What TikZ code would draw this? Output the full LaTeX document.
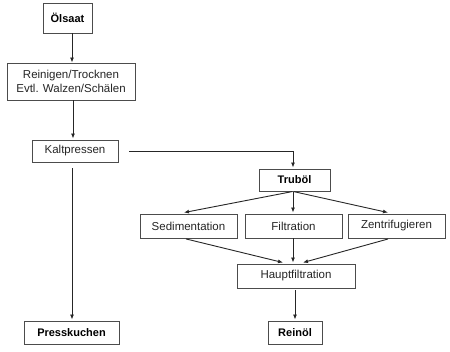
\documentclass[tikz,border=0pt]{standalone}
\usepackage{fontspec}
\setmainfont{Liberation Sans}
\usetikzlibrary{arrows.meta,calc}
\begin{document}
\begin{tikzpicture}[x=1pt,y=-1pt,
  box/.style={draw=black!70,line width=0.9pt,inner sep=0pt,text=black!85,
    font=\fontsize{11.5}{13.5}\selectfont,align=center},
  bbox/.style={box,text=black,font=\fontsize{11}{13}\selectfont\bfseries},
  arr/.style={draw=black!85,line width=0.9pt,-{Latex[length=5pt,width=4pt]}}]
\useasboundingbox[fill=white] (0,0) rectangle (450,352);
\node[bbox,minimum width=49pt,minimum height=30pt] (olsaat) at (67.5,18) {Ölsaat};
\node[box,minimum width=128pt,minimum height=37pt] (rein) at (71,81.5) {Reinigen/Trocknen\\Evtl. Walzen/Schälen};
\node[box,minimum width=86pt,minimum height=22pt] (kalt) at (75,151) {Kaltpressen};
\node[bbox,minimum width=95pt,minimum height=23pt] (press) at (71.5,332.5) {Presskuchen};
\node[bbox,minimum width=71pt,minimum height=22pt] (trub) at (294.5,180) {Truböl};
\node[box,minimum width=97pt,minimum height=24pt] (sed) at (188.5,226) {Sedimentation};
\node[box,minimum width=97pt,minimum height=24pt] (filt) at (293.5,226) {Filtration};
\node[box,minimum width=97pt,minimum height=24pt] (zent) at (396.5,226) {Zentrifugieren};
\node[box,minimum width=118pt,minimum height=24pt] (haupt) at (296,276) {Hauptfiltration};
\node[bbox,minimum width=54pt,minimum height=23pt] (reinol) at (295,332.5) {Reinöl};

\draw[arr] (olsaat.south -| 72,0) -- (rein.north -| 72,0);
\draw[arr] (rein.south -| 73,0) -- ([yshift=1pt]kalt.north -| 73,0);
\draw[arr,shorten <=11pt] (kalt.east) -- (kalt.east -| 293,0) -- ([yshift=1pt]trub.north -| 293,0);
\draw[arr,shorten <=6pt] (kalt.south -| 72,0) -- ([yshift=1pt]press.north -| 72,0);
\draw[arr,shorten <=1pt] (trub.south -| 293,0) -- ([yshift=1pt]sed.north -| 184,0);
\draw[arr,shorten <=1pt] (trub.south -| 293,0) -- ([yshift=1pt]filt.north -| 293,0);
\draw[arr,shorten <=1pt] (trub.south -| 293,0) -- ([yshift=1pt]zent.north -| 388,0);
\draw[arr,shorten <=2pt] (sed.south -| 184,0) -- ([yshift=1pt]haupt.north -| 283,0);
\draw[arr] (filt.south -| 293,0) -- ([yshift=1pt]haupt.north -| 293,0);
\draw[arr,shorten <=2pt] (zent.south -| 390,0) -- ([yshift=1pt]haupt.north -| 303,0);
\draw[arr,shorten <=2pt] (haupt.south -| 295,0) -- ([yshift=1pt]reinol.north -| 295,0);
\end{tikzpicture}
\end{document}
